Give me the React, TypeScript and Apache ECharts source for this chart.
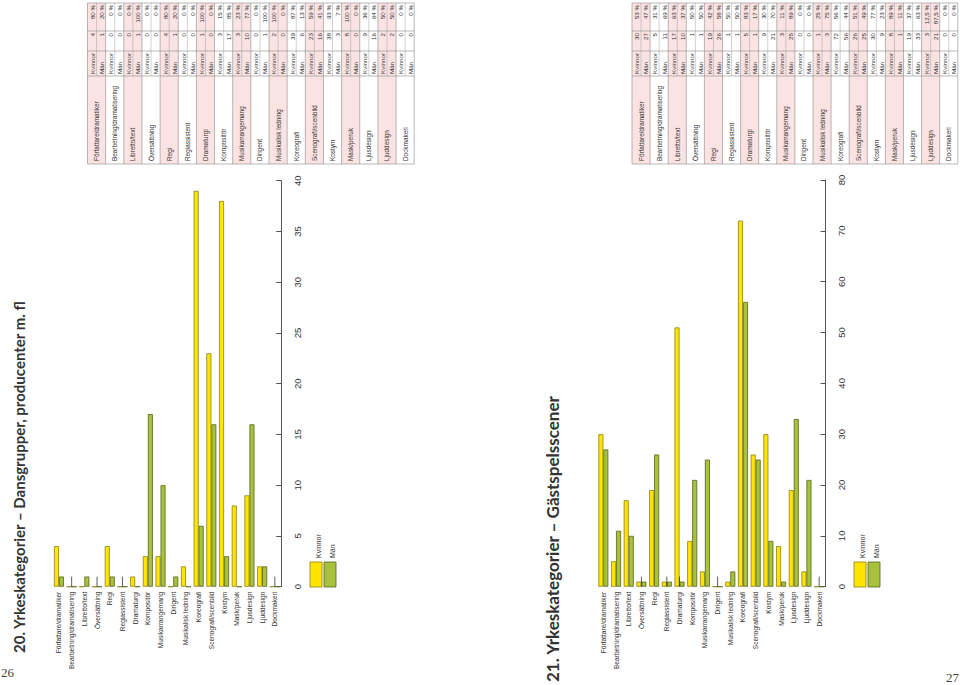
import React, { useEffect, useRef } from "react";
import * as echarts from "echarts";

const categories = [
  "Författare/dramatiker", "Bearbetning/dramatisering", "Libretto/text", "Översättning", "Regi",
  "Regiassistent", "Dramaturgi", "Kompositör", "Musikarrangemang", "Dirigent", "Musikalisk ledning",
  "Koreografi", "Scenografi/scenbild", "Kostym", "Mask/peruk", "Ljusdesign", "Ljuddesign", "Dockmakeri",
];

// Chart 20 – Dansgrupper, producenter m. fl
const kvinnor20 = [4, 0, 0, 0, 4, 0, 1, 3, 3, 0, 2, 39, 23, 38, 8, 9, 2, 0];
const man20 = [1, 0, 1, 0, 1, 0, 0, 17, 10, 1, 0, 6, 16, 3, 0, 16, 2, 0];
const pctK20 = ["80 %", "0 %", "0 %", "0 %", "80 %", "0 %", "100 %", "15 %", "23 %", "0 %", "100 %", "87 %", "59 %", "93 %", "100 %", "36 %", "50 %", "0 %"];
const pctM20 = ["20 %", "0 %", "100 %", "0 %", "20 %", "0 %", "0 %", "85 %", "77 %", "100 %", "0 %", "13 %", "41 %", "7 %", "0 %", "64 %", "50 %", "0 %"];
const ticks20 = ["Bearbetning/dramatisering", "Översättning", "Regiassistent", "Dockmakeri"];

// Chart 21 – Gästspelsscener
const kvinnor21 = [30, 5, 17, 1, 19, 1, 5, 9, 3, 0, 1, 72, 26, 30, 8, 19, 3, 0];
const man21 = [27, 11, 10, 1, 26, 1, 1, 21, 25, 0, 3, 56, 25, 9, 1, 33, 21, 0];
const kvinnorBars21 = [30, 5, 17, 1, 19, 1, 51, 9, 3, 0, 1, 72, 26, 30, 8, 19, 3, 0];
const pctK21 = ["53 %", "31 %", "63 %", "50 %", "42 %", "50 %", "83 %", "30 %", "11 %", "0 %", "25 %", "56 %", "51 %", "77 %", "89 %", "37 %", "12,5 %", "0 %"];
const pctM21 = ["47 %", "69 %", "37 %", "50 %", "58 %", "50 %", "17 %", "70 %", "89 %", "0 %", "75 %", "44 %", "49 %", "23 %", "11 %", "63 %", "87,5 %", "0 %"];
const ticks21 = ["Översättning", "Regiassistent", "Dramaturgi", "Dirigent", "Dockmakeri"];

const title20 = "20. Yrkeskategorier – Dansgrupper, producenter m. fl";
const title21 = "21. Yrkeskategorier – Gästspelsscener";
const legendNames = ["Kvinnor", "Män"];

const YELLOW = "#ffe500";
const YELLOW_B = "#8f7f16";
const GREEN = "#a8c23c";
const GREEN_B = "#57651c";
const FONT = "'Liberation Sans', Arial, sans-serif";
const R = Math.PI / 2;

function vtext(x: number, y: number, text: string, size: number, align: string, extra: any = {}) {
  return {
    type: "text",
    x,
    y,
    rotation: R,
    silent: true,
    style: {
      text,
      fontSize: size,
      fontFamily: FONT,
      fill: "#333",
      align,
      verticalAlign: "middle",
      ...extra,
    },
  };
}

function hline(x1: number, y1: number, x2: number, y2: number, w = 0.6, c = "#8a8a8a") {
  return { type: "line", silent: true, shape: { x1, y1, x2, y2 }, style: { stroke: c, lineWidth: w } };
}

function buildTable(x0: number, bw: number, cK: number[], cM: number[], pK: string[], pM: string[]) {
  const els: any[] = [];
  const yTop = 3, yPct = 31, yCnt = 51, ySex = 76, yBot = 164;
  const n = categories.length;
  const xEnd = x0 + n * bw;
  categories.forEach((c, i) => {
    const bx = x0 + i * bw;
    if (i % 2 === 0) {
      els.push({ type: "rect", silent: true, shape: { x: bx, y: yTop, width: bw, height: yBot - yTop }, style: { fill: "#fbe3e3" } });
    }
  });
  categories.forEach((c, i) => {
    const bx = x0 + i * bw;
    els.push(hline(bx, yTop, bx, yBot));
    els.push(hline(bx + bw / 2, yTop, bx + bw / 2, ySex, 0.4));
    const kx = bx + bw * 0.27;
    const mx = bx + bw * 0.77;
    els.push(vtext(bx + bw / 2, yBot - 3, c, 6.4, "left"));
    els.push(vtext(kx, ySex - 2, legendNames[0], 6.2, "left"));
    els.push(vtext(mx, ySex - 2, legendNames[1], 6.2, "left"));
    els.push(vtext(kx, yPct + 2, String(cK[i]), 6.2, "right"));
    els.push(vtext(mx, yPct + 2, String(cM[i]), 6.2, "right"));
    els.push(vtext(kx, yTop + 2, pK[i], 6.2, "right"));
    els.push(vtext(mx, yTop + 2, pM[i], 6.2, "right"));
  });
  els.push(hline(xEnd, yTop, xEnd, yBot));
  [yTop, yPct, yCnt, ySex, yBot].forEach((y) => els.push(hline(x0, y, xEnd, y)));
  return els;
}

function legend(x: number) {
  return [
    { type: "rect", silent: true, shape: { x, y: 562, width: 12, height: 25 }, style: { fill: YELLOW, stroke: YELLOW_B, lineWidth: 0.8 } },
    { type: "rect", silent: true, shape: { x: x + 14, y: 562, width: 12, height: 25 }, style: { fill: GREEN, stroke: GREEN_B, lineWidth: 0.8 } },
    vtext(x + 8, 558, legendNames[0], 7, "left"),
    vtext(x + 22, 558, legendNames[1], 7, "left"),
  ];
}

function tickSeries(idx: number, list: string[]) {
  return {
    type: "custom",
    xAxisIndex: idx,
    yAxisIndex: idx,
    silent: true,
    z: 5,
    data: list.map((c) => [categories.indexOf(c), 0]),
    renderItem: (params: any, api: any) => {
      const p = api.coord([api.value(0), 0]);
      return { type: "line", shape: { x1: p[0], y1: p[1], x2: p[0], y2: p[1] - 10 }, style: { stroke: "#333", lineWidth: 0.8 } };
    },
  };
}

function xAxis(idx: number) {
  return {
    type: "category",
    gridIndex: idx,
    data: categories,
    axisLine: { show: false },
    axisTick: { show: false },
    axisLabel: { rotate: 90, interval: 0, fontSize: 6.6, color: "#333", margin: 5, fontFamily: FONT },
  };
}

function yAxis(idx: number, max: number, interval: number) {
  return {
    type: "value",
    gridIndex: idx,
    position: "right",
    min: 0,
    max,
    interval,
    axisLine: { show: true, lineStyle: { color: "#555", width: 1 } },
    axisTick: { show: true, inside: true, length: 5, lineStyle: { color: "#555" } },
    axisLabel: { rotate: 90, fontSize: 9.5, color: "#333", margin: 11, fontFamily: FONT },
    splitLine: { show: false },
  };
}

function bar(idx: number, name: string, data: number[], color: string, border: string) {
  return {
    type: "bar",
    name,
    xAxisIndex: idx,
    yAxisIndex: idx,
    data,
    barWidth: 5,
    barGap: "0%",
    itemStyle: { color, borderColor: border, borderWidth: 0.8 },
  };
}

export default function App() {
  const ref = useRef<HTMLDivElement>(null);
  useEffect(() => {
    if (!ref.current) return;
    const chart = echarts.init(ref.current, undefined, { renderer: "svg" });
    const graphic: any[] = [
      ...buildTable(87.5, 18.15, kvinnor20, man20, pctK20, pctM20),
      ...buildTable(632, 18.1, kvinnor21, man21, pctK21, pctM21),
      ...legend(310),
      ...legend(854),
      {
        type: "text", x: 19, y: 653, rotation: R, silent: true,
        style: { text: title20, fontSize: 15, fontFamily: "Lato, 'Open Sans', sans-serif", fontWeight: "bold", fill: "#333", align: "left", verticalAlign: "middle" },
      },
      {
        type: "text", x: 552, y: 682, rotation: R, silent: true,
        style: { text: title21, fontSize: 17, fontFamily: "Lato, 'Open Sans', sans-serif", fontWeight: "bold", fill: "#333", align: "left", verticalAlign: "middle" },
      },
      { type: "text", x: 1, y: 679, silent: true, style: { text: "26", fontSize: 13, fontFamily: "'Liberation Serif', serif", fill: "#444", align: "left", verticalAlign: "bottom" } },
      { type: "text", x: 959, y: 684, silent: true, style: { text: "27", fontSize: 13, fontFamily: "'Liberation Serif', serif", fill: "#444", align: "right", verticalAlign: "bottom" } },
    ];
    chart.setOption({
      animation: false,
      backgroundColor: "#ffffff",
      grid: [
        { left: 52.6, top: 180.7, width: 228.6, height: 406, containLabel: false },
        { left: 597, top: 180, width: 228.5, height: 406.7, containLabel: false },
      ],
      xAxis: [xAxis(0), xAxis(1)],
      yAxis: [yAxis(0, 40, 5), yAxis(1, 80, 10)],
      series: [
        bar(0, legendNames[0], kvinnor20, YELLOW, YELLOW_B),
        bar(0, legendNames[1], man20, GREEN, GREEN_B),
        bar(1, legendNames[0], kvinnorBars21, YELLOW, YELLOW_B),
        bar(1, legendNames[1], man21, GREEN, GREEN_B),
        tickSeries(0, ticks20),
        tickSeries(1, ticks21),
      ],
      graphic,
    });
    return () => chart.dispose();
  }, []);
  return <div ref={ref} style={{ position: "absolute", left: 0, top: 0, width: 960, height: 685 }} />;
}
